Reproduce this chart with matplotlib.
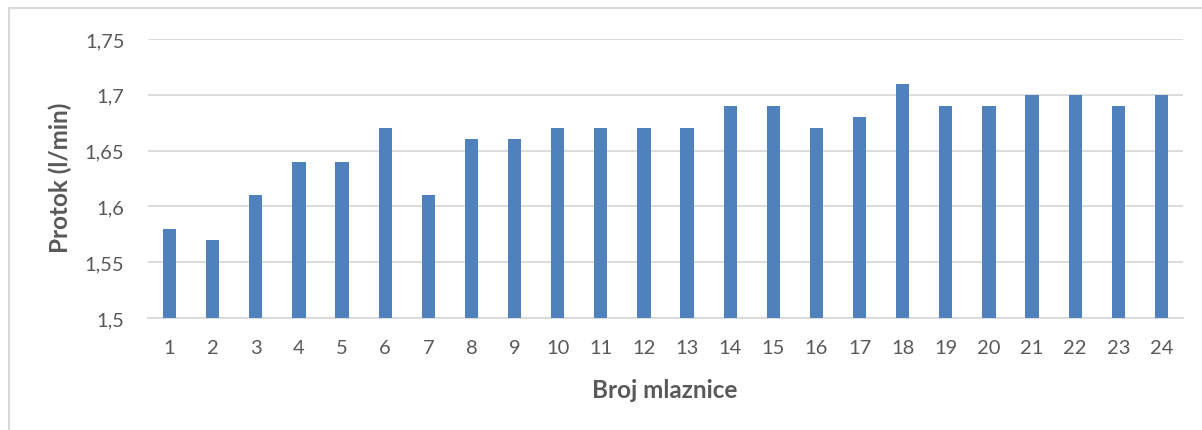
import numpy as np
import matplotlib.pyplot as plt
from matplotlib.patches import Rectangle

# 数据
mlaznice = [str(i) for i in range(1, 25)]
protok = [1.58, 1.57, 1.61, 1.64, 1.64, 1.67, 1.61, 1.66, 1.66, 1.67, 1.67, 1.67,
          1.67, 1.69, 1.69, 1.67, 1.68, 1.71, 1.69, 1.69, 1.70, 1.70, 1.69, 1.70]
y_ticks = [1.5, 1.55, 1.6, 1.65, 1.7, 1.75]
y_tick_labels = ['1,5', '1,55', '1,6', '1,65', '1,7', '1,75']

plt.rcParams['font.family'] = ['Lato', 'DejaVu Sans']
text_color = '#595959'
grid_color = '#D9D9D9'

fig = plt.figure(figsize=(12.02, 4.31), dpi=100)
ax = fig.add_axes([148 / 1202, 1 - 319 / 431, (1183 - 148) / 1202, (319 - 40) / 431])

x = np.arange(len(mlaznice))
ax.bar(x, [v - 1.5 for v in protok], bottom=1.5, width=0.31, color='#4F81BD', zorder=3)

ax.set_xlim(-0.5, len(mlaznice) - 0.5)
ax.set_ylim(1.5, 1.75)
ax.set_xticks(x)
ax.set_xticklabels(mlaznice)
ax.set_yticks(y_ticks)
ax.set_yticklabels(y_tick_labels)
ax.tick_params(axis='both', length=0, labelsize=14.5, colors=text_color)
ax.tick_params(axis='x', pad=15)
ax.tick_params(axis='y', pad=17)

ax.grid(axis='y', color=grid_color, linewidth=1.3, zorder=0)
for s in ['top', 'right', 'left']:
    ax.spines[s].set_visible(False)
ax.spines['bottom'].set_color(grid_color)
ax.spines['bottom'].set_linewidth(1.3)

fig.text(60 / 1202, 1 - 178 / 431, 'Protok (l/min)', rotation=90, ha='center', va='center',
         fontsize=17.5, fontweight='bold', color=text_color)
fig.text(665 / 1202, 1 - 390 / 431, 'Broj mlaznice', ha='center', va='center',
         fontsize=17.5, fontweight='bold', color=text_color)

# 图表外框
fig.add_artist(Rectangle((8.5 / 1202, -0.1), 1.2, 1.1 - 9 / 431, transform=fig.transFigure,
                         fill=False, edgecolor=grid_color, linewidth=1.5))

fig.savefig('out.png', dpi=100)
